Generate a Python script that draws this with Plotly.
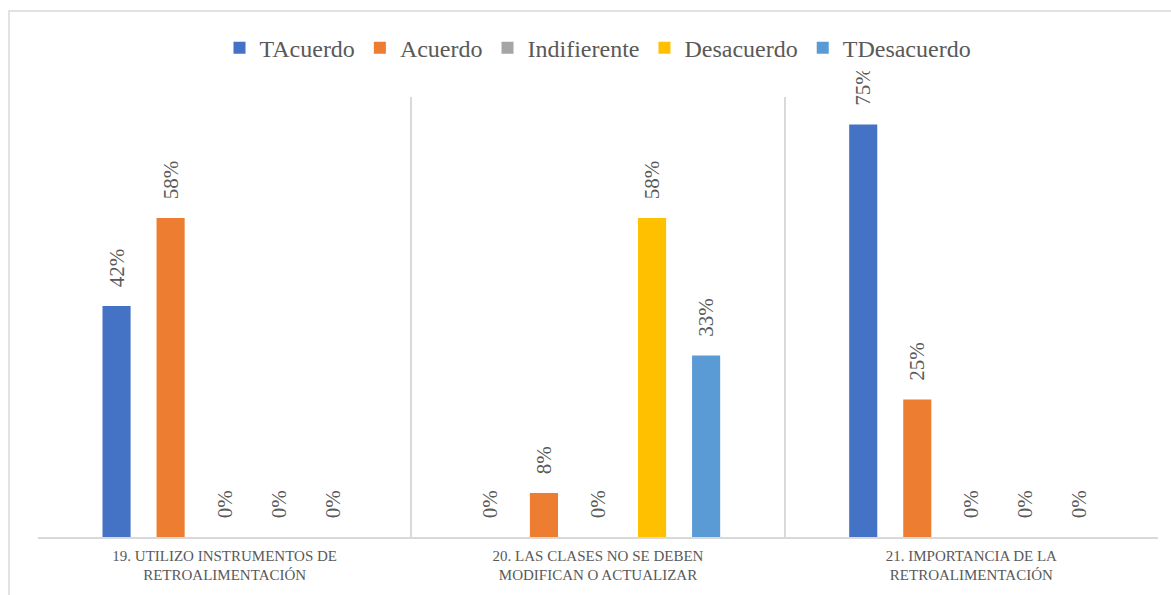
import plotly.graph_objects as go

categories = [
    "19. UTILIZO INSTRUMENTOS DE<br>RETROALIMENTACIÓN",
    "20. LAS CLASES NO SE DEBEN<br>MODIFICAN O ACTUALIZAR",
    "21. IMPORTANCIA DE LA<br>RETROALIMENTACIÓN",
]
series_names = ["TAcuerdo", "Acuerdo", "Indifierente", "Desacuerdo", "TDesacuerdo"]
tacuerdo = [0.42, 0.0, 0.75]
acuerdo = [0.58, 0.08, 0.25]
indiferente = [0.0, 0.0, 0.0]
desacuerdo = [0.0, 0.58, 0.0]
tdesacuerdo = [0.0, 0.33, 0.0]
series_values = [tacuerdo, acuerdo, indiferente, desacuerdo, tdesacuerdo]
colors = ["#4472C4", "#ED7D31", "#A5A5A5", "#FFC000", "#5B9BD5"]

FONT = "Liberation Serif"
GRAY = "#595959"
LINE = "#D9D9D9"
NB = "\u00a0"

fig = go.Figure()
for name, vals, col in zip(series_names, series_values, colors):
    fig.add_trace(go.Bar(
        name=name, x=categories, y=vals, marker_color=col, marker_line_width=0,
        text=[f"{NB*3}{round(v*100)}%" for v in vals],
        textposition="outside", textangle=-90, cliponaxis=False,
        constraintext="none",
        textfont=dict(family=FONT, size=21, color=GRAY),
        hoverinfo="skip",
    ))

fig.update_layout(
    width=1171, height=595,
    margin=dict(l=38, r=13, t=97, b=58),
    paper_bgcolor="white", plot_bgcolor="white",
    barmode="group", bargap=0.276, bargroupgap=0.48,
    font=dict(family=FONT, color=GRAY),
    legend=dict(orientation="h", x=0.5, xanchor="center", y=1.111, yanchor="middle",
                font=dict(family=FONT, size=24, color=GRAY), itemwidth=30,
                traceorder="normal"),
    xaxis=dict(type="category", tickson="boundaries", showgrid=True, gridcolor=LINE,
               gridwidth=1.5, showline=True, linecolor=LINE, linewidth=1.5,
               ticks="", ticklabelstandoff=4,
               tickfont=dict(family=FONT, size=15, color=GRAY)),
    yaxis=dict(range=[0, 0.8], showgrid=False, showticklabels=False, zeroline=False,
               showline=False),
    shapes=[dict(type="rect", xref="paper", yref="paper",
                 x0=-0.0259, x1=1.2, y0=-0.5, y1=1.1955,
                 line=dict(color=LINE, width=1.5), fillcolor="rgba(0,0,0,0)",
                 layer="below")],
    showlegend=True,
)

fig.write_html("out.html")
